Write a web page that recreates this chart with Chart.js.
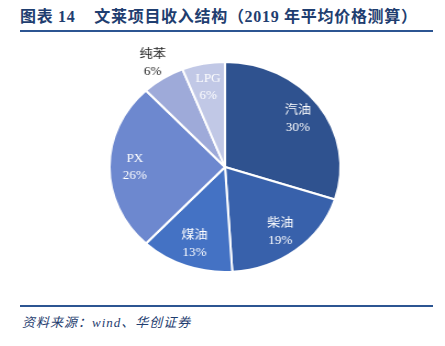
<!DOCTYPE html>
<html>
<head>
<meta charset="utf-8">
<script src="https://cdn.jsdelivr.net/npm/chart.js@4"></script>
<style>
  body { margin: 0; background: #fff; }
  #page { position: relative; width: 445px; height: 346px; overflow: hidden; }
  #title {
    position: absolute; left: 20px; top: 3px; white-space: nowrap;
    font: bold 16px "Liberation Serif", "Noto Sans CJK SC", serif;
    color: #1f3e70; letter-spacing: 0.7px;
  }
  .rule { position: absolute; left: 20px; width: 413px; height: 2px; background: #2c5592; }
  #src {
    position: absolute; left: 22px; top: 312px; white-space: nowrap;
    font: italic 13px "Liberation Serif", "Noto Sans CJK SC", serif;
    color: #1f3e70; letter-spacing: 1px;
  }
  #wrap {
    position: absolute; left: 85px; top: 41px; width: 280px; height: 252px;
    transform: scaleX(1.1); transform-origin: 140px 126px;
  }
</style>
</head>
<body>
<div id="page">
  <div id="title">图表 14&nbsp;&nbsp;&nbsp;&nbsp;文莱项目收入结构（2019 年平均价格测算）</div>
  <div class="rule" style="top:30px"></div>
  <div id="wrap"><canvas id="pie"></canvas></div>
  <div class="rule" style="top:305px"></div>
  <div id="src">资料来源：wind、华创证券</div>
</div>
<script>
// slice data, clockwise from 12 o'clock
const products = ["汽油", "柴油", "煤油", "PX", "纯苯", "LPG"];
const shares = [30, 19, 13, 26, 6, 6];

const SLICE_COLORS = ["#2f528f", "#3861ab", "#4472c4", "#6d88cf", "#9eaad9", "#c1c8e6"];

// name + percent inside each slice (纯苯 sits outside)
const sliceLabels = {
  id: "sliceLabels",
  afterDatasetsDraw(chart) {
    const { ctx } = chart;
    const arcs = chart.getDatasetMeta(0).data;
    ctx.save();
    ctx.textAlign = "center";
    ctx.textBaseline = "middle";
    arcs.forEach((arc, i) => {
      const p = arc.getProps(["x", "y", "startAngle", "endAngle", "outerRadius"], true);
      const mid = (p.startAngle + p.endAngle) / 2;
      const outside = products[i] === "纯苯";
      const r = p.outerRadius * (outside ? 1.17 : 0.78);
      const x = p.x + Math.cos(mid) * r;
      const y = p.y + Math.sin(mid) * r;
      ctx.fillStyle = outside ? "#222" : "#fff";
      ctx.font = '12px "Liberation Serif", "Noto Sans CJK SC", serif';
      ctx.fillText(products[i], x, y - 8);
      ctx.fillText(shares[i] + "%", x, y + 9);
    });
    ctx.restore();
  },
};

new Chart(document.getElementById("pie"), {
  type: "pie",
  data: {
    labels: products,
    datasets: [{
      data: shares,
      backgroundColor: SLICE_COLORS,
      borderColor: "#fff",
      borderWidth: 2,
    }],
  },
  options: {
    responsive: true,
    maintainAspectRatio: false,
    animation: false,
    layout: { padding: 20 },
    plugins: { legend: { display: false }, tooltip: { enabled: false } },
  },
  plugins: [sliceLabels],
});
</script>
</body>
</html>
